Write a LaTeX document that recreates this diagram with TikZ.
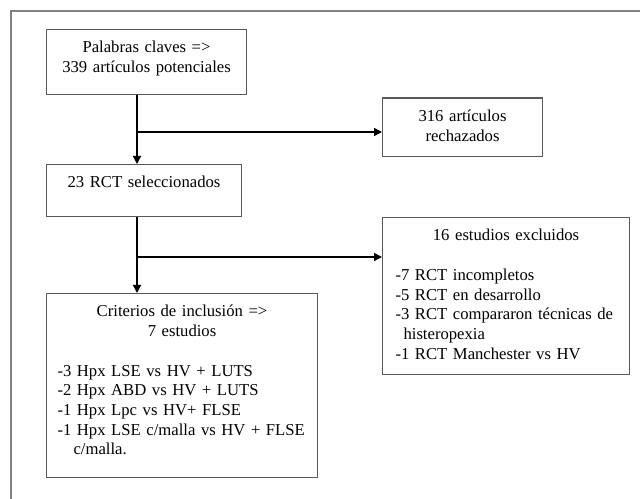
\documentclass[tikz,border=0pt]{standalone}
\usepackage{fontspec}
\setmainfont{Liberation Serif}
\usetikzlibrary{arrows.meta}
\definecolor{boxgray}{gray}{0.35}
\definecolor{framegray}{gray}{0.5}
\begin{document}
\begin{tikzpicture}[x=0.75pt,y=-0.75pt,
  box/.style={draw=boxgray, line width=0.8pt, inner sep=0pt, anchor=north west,
    text height=17.5pt, font=\fontsize{12.5}{14.8}\selectfont},
  conn/.style={line width=1.1pt, -{Triangle[length=6pt,width=6pt]}}]
\useasboundingbox (0,0) rectangle (640,499);
% outer frame (open to right and bottom)
\draw[framegray, line width=1.1pt] (11,510) -- (11,11) -- (660,11);

\node[box, text width=150pt, text depth=31.25pt, align=center] (b1) at (46,29)
  {Palabras claves =>\\339 artículos potenciales};
\node[box, text width=120pt, text depth=26.4pt, align=center] (b316) at (382,97.5)
  {316 artículos\\rechazados};
\node[box, text width=146.25pt, text depth=21.5pt, align=center] (b23) at (46,164)
  {23 RCT seleccionados};
\node[box, text width=185.25pt, text depth=100.25pt] (b16) at (382,217)
  {{\centering 16 estudios excluidos\par}\vspace{\baselineskip}%
   \leftskip=9.75pt\rightskip=0pt plus 1fil\noindent
   -7 RCT incompletos\\
   -5 RCT en desarrollo\\
   -3 RCT compararon técnicas de\\
   \hspace*{6pt}histeropexia\\
   -1 RCT Manchester vs HV\par};
\node[box, text width=203.25pt, text depth=120.5pt] (crit) at (46,293)
  {{\centering Criterios de inclusión =>\\7 estudios\par}\vspace{\baselineskip}%
   \leftskip=8.25pt\rightskip=0pt plus 1fil\noindent
   -3 Hpx LSE vs HV + LUTS\\
   -2 Hpx ABD vs HV + LUTS\\
   -1 Hpx Lpc vs HV+ FLSE\\
   -1 Hpx LSE c/malla vs HV + FLSE\\
   \hspace*{12pt}c/malla.\par};

\coordinate (v) at (137,0);
\coordinate (j1) at (137,132);
\coordinate (j2) at (137,257);
\draw[conn] (b1.south -| v) -- (b23.north -| v);
\draw[conn] (j1) -- (j1 -| b316.west);
\draw[conn] (b23.south -| v) -- (crit.north -| v);
\draw[conn] (j2) -- (j2 -| b16.west);
\end{tikzpicture}
\end{document}
